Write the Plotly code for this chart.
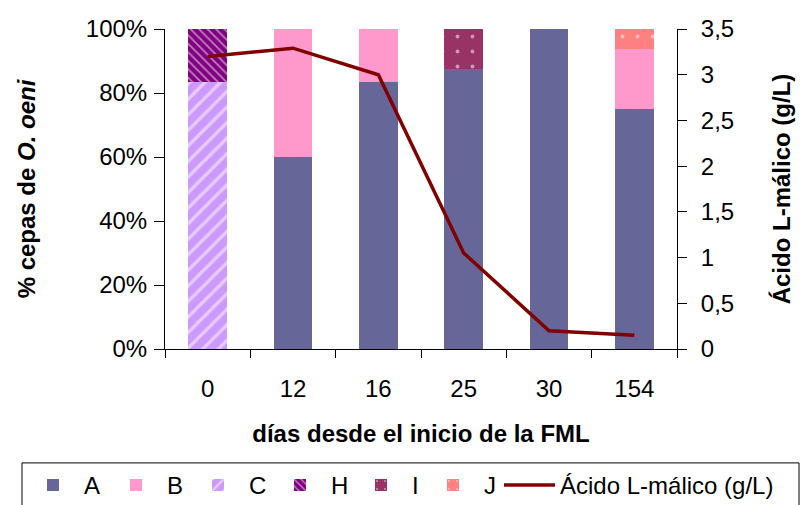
import plotly.graph_objects as go

dias = ["0", "12", "16", "25", "30", "154"]
cepa_A = [0, 60, 83.3, 87.5, 100, 75]
cepa_B = [0, 40, 16.7, 0, 0, 18.75]
cepa_C = [83.3, 0, 0, 0, 0, 0]
cepa_H = [16.7, 0, 0, 0, 0, 0]
cepa_I = [0, 0, 0, 12.5, 0, 0]
cepa_J = [0, 0, 0, 0, 0, 6.25]
malico = [3.2, 3.29, 3.0, 1.05, 0.2, 0.15]

y1_ticks = [0, 20, 40, 60, 80, 100]
y1_labels = ["0%", "20%", "40%", "60%", "80%", "100%"]
y2_ticks = [0, 0.5, 1, 1.5, 2, 2.5, 3, 3.5]
y2_labels = ["0", "0,5", "1", "1,5", "2", "2,5", "3", "3,5"]

FONT = "Arial, Liberation Sans, sans-serif"
FS = 24

fig = go.Figure()

def bar(name, vals, color, lw, shape=None, size=8, solidity=0.3):
    pattern = dict(shape=shape, fgcolor="white", size=size, solidity=solidity) if shape else dict(shape="")
    fig.add_trace(go.Bar(
        x=dias, y=vals, name=name, legendwidth=lw, legend="legend",
        marker=dict(color=color, line=dict(width=0), pattern=pattern),
    ))

bar("A", cepa_A, "#666699", 16)
bar("B", cepa_B, "#FF99CC", 15)
bar("C", cepa_C, "#CC99FF", 15, "/", 11, 0.3)
bar("H", cepa_H, "#800080", 14, "\\", 6, 0.3)
bar("I", cepa_I, "#993366", 5, ".", 15, 0.05)
bar("J", cepa_J, "#FF8080", 9, ".", 15, 0.05)

fig.add_trace(go.Scatter(
    x=dias, y=malico, name="Ácido L-málico (g/L)", yaxis="y2", legend="legend2",
    mode="lines", line=dict(color="#800000", width=3.5),
))

W_PLOT = 805 - 165 - 128
leg_common = dict(
    orientation="h", y=-0.356, xanchor="left", yanchor="top",
    borderwidth=0, font=dict(size=FS), traceorder="normal",
    bgcolor="rgba(0,0,0,0)",
)

fig.update_layout(
    width=805, height=505,
    margin=dict(l=165, r=128, t=29, b=156, autoexpand=False),
    paper_bgcolor="white", plot_bgcolor="white",
    barmode="stack", bargap=0.55,
    font=dict(family=FONT, size=FS, color="black"),
    xaxis=dict(
        type="category", showline=True, linecolor="black", linewidth=1,
        ticks="outside", ticklen=8, tickcolor="black", tickson="boundaries",
        ticklabelstandoff=18, tickfont=dict(size=FS),
        title=dict(text="<b>días desde el inicio de la FML</b>", standoff=24,
                   font=dict(size=FS)),
        showgrid=False, zeroline=False,
    ),
    yaxis=dict(
        range=[0, 100], tickvals=y1_ticks, ticktext=y1_labels,
        showline=True, linecolor="black", linewidth=1,
        ticks="outside", ticklen=10, tickcolor="black",
        ticklabelstandoff=2, tickfont=dict(size=FS),
        title=dict(text="<b>% cepas de <i>O. oeni</i></b>", standoff=43,
                   font=dict(size=FS)),
        showgrid=False, zeroline=False,
    ),
    yaxis2=dict(
        range=[0, 3.5], tickvals=y2_ticks, ticktext=y2_labels,
        overlaying="y", side="right", anchor="x",
        showline=True, linecolor="black", linewidth=1,
        ticks="outside", ticklen=9, tickcolor="black",
        ticklabelstandoff=9, tickfont=dict(size=FS),
        title=dict(text="<b>Ácido L-málico (g/L)</b>", standoff=40,
                   font=dict(size=FS)),
        showgrid=False, zeroline=False,
    ),
    yaxis3=dict(
        range=[0, 3.5], tickvals=y2_ticks,
        overlaying="y", side="right", anchor="x",
        showline=False, showticklabels=False,
        ticks="inside", ticklen=5, tickcolor="black",
        showgrid=False, zeroline=False,
    ),
    legend=dict(x=(22 - 165) / W_PLOT, itemwidth=52, **leg_common),
    legend2=dict(x=(499 - 165) / W_PLOT, itemwidth=51, **leg_common),
    shapes=[dict(
        type="rect", xref="paper", yref="paper",
        x0=(22 - 165) / W_PLOT, x1=(799 - 165) / W_PLOT,
        y0=-0.356, y1=-0.53,
        line=dict(color="black", width=1), fillcolor="rgba(0,0,0,0)",
        layer="above",
    )],
    showlegend=True,
)

fig.write_html("out.html")
